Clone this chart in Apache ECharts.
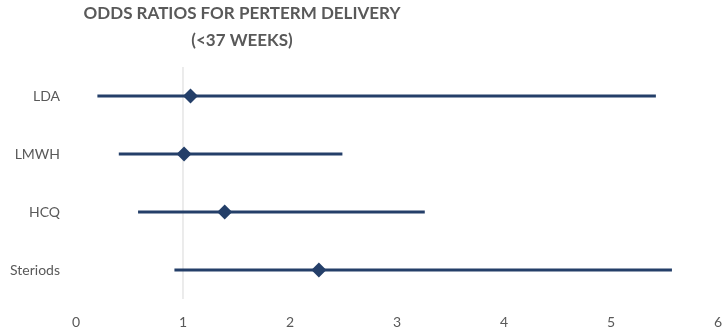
<!DOCTYPE html>
<html><head><meta charset="utf-8">
<script src="https://cdn.jsdelivr.net/npm/echarts@6/dist/echarts.min.js"></script>
<style>html,body{margin:0;padding:0;background:#fff}#c{width:725px;height:330px}</style>
</head><body><div id="c"></div>
<script>
const categories = ['LDA', 'LMWH', 'HCQ', 'Steriods'];
const oddsRatio = [1.07, 1.01, 1.39, 2.27];
const lowerCI = [0.20, 0.40, 0.58, 0.92];
const upperCI = [5.42, 2.49, 3.26, 5.57];
const referenceLine = [1];
const xTicks = [0, 1, 2, 3, 4, 5, 6];

const navy = '#243F69';
const chart = echarts.init(document.getElementById('c'));
chart.setOption({
  animation: false,
  title: {
    text: 'ODDS RATIOS FOR PERTERM DELIVERY\n(<37 WEEKS)',
    left: 237, top: -5, textAlign: 'center',
    textStyle: { fontFamily: 'Lato', fontWeight: 'bold', fontSize: 17, color: '#595959', lineHeight: 27 }
  },
  grid: { left: 76, right: 7, top: 67, bottom: 31, containLabel: false },
  xAxis: {
    type: 'value', min: xTicks[0], max: xTicks[xTicks.length - 1], interval: 1,
    axisLine: { show: false }, axisTick: { show: false }, splitLine: { show: false },
    axisLabel: { color: '#595959', fontFamily: 'Lato', fontSize: 14, margin: 16 }
  },
  yAxis: {
    type: 'category', data: categories, inverse: true,
    axisLine: { show: false }, axisTick: { show: false }, splitLine: { show: false },
    axisLabel: { color: '#595959', fontFamily: 'Lato', fontSize: 14, margin: 16 }
  },
  series: [
    {
      type: 'custom',
      data: referenceLine.map(v => [v, 0]),
      renderItem: function (params, api) {
        const cs = params.coordSys;
        const p = api.coord([api.value(0), 0]);
        return { type: 'line', shape: { x1: p[0], y1: cs.y, x2: p[0], y2: cs.y + cs.height }, style: { stroke: '#D9D9D9', lineWidth: 1 } };
      },
      z: 1
    },
    {
      type: 'custom',
      data: categories.map((c, i) => [lowerCI[i], upperCI[i], i]),
      renderItem: function (params, api) {
        const a = api.coord([api.value(0), api.value(2)]);
        const b = api.coord([api.value(1), api.value(2)]);
        return { type: 'line', shape: { x1: a[0], y1: a[1], x2: b[0], y2: b[1] }, style: { stroke: navy, lineWidth: 3 } };
      },
      z: 3
    },
    {
      type: 'scatter',
      data: categories.map((c, i) => [oddsRatio[i], i]),
      symbol: 'diamond', symbolSize: [15, 15],
      itemStyle: { color: navy, opacity: 1 },
      z: 5
    }
  ]
});
</script></body></html>
